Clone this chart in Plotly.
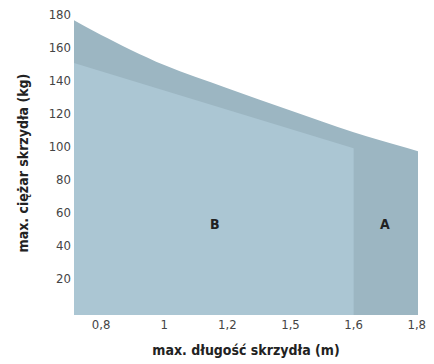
import plotly.graph_objects as go

# Category positions (index on x axis) and their labels
tick_pos = [0, 1, 2, 3, 4, 5]
tick_labels = ["0,8", "1", "1,2", "1,5", "1,6", "1,8"]

# Upper envelope (zone A) – max weight (kg)
a_x = [-0.43, 0, 1, 2, 3, 4, 5.02]
a_y = [176.4, 167.5, 149.2, 135.2, 121.6, 108.4, 97.0]

# Zone B – max weight (kg)
b_x = [-0.43, 0, 1, 2, 3, 4]
b_y = [150.5, 145.5, 133.9, 122.2, 110.4, 98.8]

y_ticks = [20, 40, 60, 80, 100, 120, 140, 160, 180]
y_min, y_max = -2.4, 182

col_a = "#9cb6c2"
col_b = "#abc6d3"
font_fam = "DejaVu Sans Condensed, Liberation Sans Narrow, Roboto, sans-serif"

fig = go.Figure()

# baseline for zone A fill
fig.add_trace(go.Scatter(x=[a_x[0], a_x[-1]], y=[y_min, y_min], mode="lines",
                         line=dict(width=0), hoverinfo="skip", showlegend=False))
fig.add_trace(go.Scatter(x=a_x, y=a_y, mode="lines", line=dict(width=0, shape="spline", smoothing=1.0),
                         fill="tonexty", fillcolor=col_a, showlegend=False))

# zone B polygon
bx = b_x + [b_x[-1], b_x[0]]
by = b_y + [y_min, y_min]
fig.add_trace(go.Scatter(x=bx, y=by, mode="lines", line=dict(width=0),
                         fill="toself", fillcolor=col_b, showlegend=False))

fig.add_annotation(x=1.8, y=52.7, text="<b>B</b>", showarrow=False,
                   font=dict(family=font_fam, size=14, color="#222"))
fig.add_annotation(x=4.5, y=52.7, text="<b>A</b>", showarrow=False,
                   font=dict(family=font_fam, size=14, color="#222"))

fig.update_layout(
    width=426, height=356,
    margin=dict(l=66, r=16, t=3, b=49),
    paper_bgcolor="white", plot_bgcolor="white",
    font=dict(family=font_fam, color="#444"),
    xaxis=dict(range=[a_x[0], a_x[-1]], tickvals=tick_pos, ticktext=tick_labels,
               showgrid=False, zeroline=False, showline=False, ticks="", automargin=False,
               ticklabeloverflow="allow",
               tickfont=dict(size=13, color="#444"),
               title=dict(text="<b>max. długość skrzydła (m)</b>", standoff=14,
                          font=dict(size=14, color="#222"))),
    yaxis=dict(range=[y_min, y_max], tickvals=y_ticks, showgrid=False, zeroline=False,
               showline=False, ticks="", automargin=False, ticklabelstandoff=2,
               ticklabeloverflow="allow",
               tickfont=dict(size=13, color="#444"),
               title=dict(text="<b>max. ciężar skrzydła (kg)</b>", standoff=16,
                          font=dict(size=14, color="#222"))),
)

fig.write_html("out.html")
